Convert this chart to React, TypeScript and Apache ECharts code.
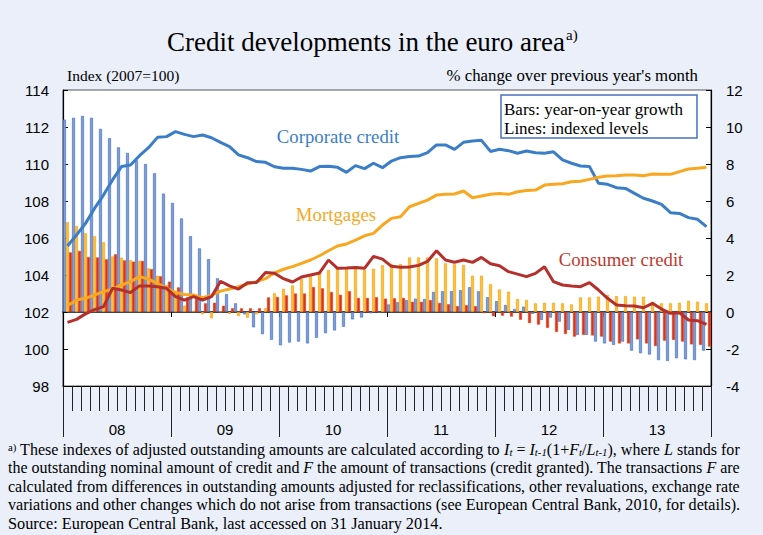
import React, { useEffect, useRef } from "react";
import * as echarts from "echarts";

const years = ["08", "09", "10", "11", "12", "13"];
const months = years.flatMap((y) =>
  Array.from({ length: 12 }, (_, m) => `${y}-${String(m + 1).padStart(2, "0")}`)
);

// Lines: indexed levels (2007 = 100), left axis
const corporateIndex = [
  105.57, 106.16, 106.79, 107.6, 108.32, 109.14, 109.86, 109.95, 110.45, 110.88, 111.44, 111.48,
  111.75, 111.6, 111.48, 111.57, 111.42, 111.17, 110.94, 110.49, 110.34, 110.13, 110.09, 109.85,
  109.77, 109.77, 109.71, 109.62, 109.86, 109.88, 109.82, 109.55, 109.91, 109.75, 110.04, 109.8,
  110.16, 110.34, 110.41, 110.43, 110.61, 111.03, 111.03, 110.79, 111.17, 111.24, 111.28, 110.68,
  110.8, 110.72, 110.58, 110.7, 110.61, 110.58, 110.66, 110.22, 110.04, 109.89, 109.86, 108.96,
  108.9, 108.72, 108.68, 108.41, 108.15, 108.0, 107.82, 107.37, 107.33, 107.1, 107.01, 106.61,
];
const mortgageIndex = [
  102.34, 102.65, 102.74, 102.92, 103.1, 103.24, 103.46, 103.64, 103.91, 103.78, 103.55, 103.28,
  103.06, 102.95, 102.92, 102.77, 102.9, 103.13, 103.24, 103.37, 103.51, 103.64, 103.8, 104.12,
  104.31, 104.45, 104.63, 104.81, 105.04, 105.31, 105.57, 105.68, 105.89, 106.12, 106.25, 106.7,
  107.06, 107.15, 107.69, 107.87, 108.05, 108.32, 108.36, 108.38, 108.54, 108.18, 108.27, 108.36,
  108.41, 108.36, 108.5, 108.57, 108.59, 108.86, 108.9, 108.93, 109.04, 109.07, 109.17, 109.28,
  109.35, 109.37, 109.41, 109.41, 109.37, 109.46, 109.44, 109.44, 109.59, 109.73, 109.77, 109.82,
];
const consumerIndex = [
  101.44, 101.6, 101.9, 102.13, 102.29, 103.28, 103.19, 103.05, 103.41, 103.41, 103.37, 103.28,
  102.83, 102.64, 102.83, 102.65, 102.83, 103.66, 103.41, 103.24, 103.58, 103.6, 104.14, 104.09,
  103.8, 103.62, 103.89, 104.0, 104.11, 104.81, 104.36, 104.38, 104.41, 104.36, 105.01, 104.86,
  104.47, 104.42, 104.43, 104.52, 104.73, 105.31, 104.81, 104.69, 104.81, 104.68, 104.95, 104.61,
  104.5, 104.18, 104.05, 103.91, 104.09, 104.45, 103.64, 103.46, 103.41, 103.37, 103.59, 103.19,
  102.74, 102.38, 102.34, 102.32, 102.23, 102.47, 102.16, 101.93, 101.96, 101.57, 101.53, 101.33,
];

// Bars: year-on-year growth (%), right axis
const corporateGrowth = [
  10.4, 10.5, 10.6, 10.5, 9.9, 9.4, 8.9, 8.6, 8.2, 8.0, 7.5, 6.4,
  5.9, 5.06, 4.1, 3.44, 2.86, 1.82, 0.97, 0.47, -0.13, -0.83, -1.2, -1.5,
  -1.8, -1.65, -1.6, -1.7, -1.4, -1.15, -1.0, -0.8, -0.4, -0.3, -0.07, -0.03,
  0.41, 0.53, 0.64, 0.72, 0.7, 1.09, 1.13, 1.13, 1.18, 1.34, 1.12, 0.8,
  0.59, 0.38, 0.16, 0.29, -0.1, -0.43, -0.3, -0.52, -0.97, -1.24, -1.24, -1.6,
  -1.7, -1.78, -1.6, -2.09, -2.23, -2.3, -2.6, -2.65, -2.5, -2.56, -2.6, -2.09,
];
const mortgageGrowth = [
  4.85, 4.65, 4.26, 4.1, 3.77, 3.0, 2.94, 2.8, 2.76, 2.36, 1.96, 1.46,
  1.06, 0.34, 0.07, -0.13, -0.34, 0.03, -0.1, -0.22, -0.31, -0.13, 0.2, 1.01,
  1.25, 1.44, 1.8, 1.93, 2.18, 2.27, 2.33, 2.38, 2.36, 2.28, 2.34, 2.53,
  2.6, 2.59, 2.95, 2.95, 2.95, 2.9, 2.63, 2.58, 2.54, 1.96, 1.96, 1.51,
  1.22, 1.1, 0.7, 0.65, 0.47, 0.5, 0.5, 0.47, 0.41, 0.79, 0.79, 0.83,
  0.92, 0.86, 0.86, 0.83, 0.83, 0.56, 0.47, 0.47, 0.5, 0.61, 0.56, 0.47,
];
const consumerGrowth = [
  3.22, 3.3, 2.97, 2.95, 2.85, 3.12, 2.79, 2.72, 2.76, 2.32, 1.93, 1.64,
  1.33, 0.79, 0.7, 0.47, 0.5, 0.34, 0.2, 0.2, 0.2, 0.2, 0.79, 0.81,
  0.9, 1.0, 1.0, 1.35, 1.28, 1.08, 0.93, 1.13, 0.76, 0.76, 0.8, 0.72,
  0.74, 0.76, 0.55, 0.55, 0.64, 0.49, 0.42, 0.32, 0.37, 0.32, -0.06, -0.23,
  -0.2, -0.25, -0.42, -0.6, -0.68, -0.86, -1.08, -1.19, -1.33, -1.24, -1.27, -1.33,
  -1.6, -1.7, -1.7, -1.48, -1.7, -1.84, -1.55, -1.51, -1.6, -1.75, -1.78, -1.87,
];

// Footnote lines as [style, text] fragments; n = normal, i = italic, sub/sup = small
const footnoteLines: [string, string][][] = [
  [
    ["sup", "a)"],
    ["n", " These indexes of adjusted outstanding amounts are calculated according to "],
    ["i", "I"], ["sub", "t"], ["n", " = "], ["i", "I"], ["sub", "t-1"], ["n", "(1+"],
    ["i", "F"], ["sub", "t"], ["n", "/"], ["i", "L"], ["sub", "t-1"], ["n", "), where "],
    ["i", "L"], ["n", " stands for"],
  ],
  [
    ["n", "the outstanding nominal amount of credit and "], ["i", "F"],
    ["n", " the amount of transactions (credit granted). The transactions "], ["i", "F"], ["n", " are"],
  ],
  [["n", "calculated from differences in outstanding amounts adjusted for reclassifications, other revaluations, exchange rate"]],
  [["n", "variations and other changes which do not arise from transactions (see European Central Bank, 2010, for details)."]],
  [["n", "Source: European Central Bank, last accessed on 31 January 2014."]],
];

const SERIF = "'Liberation Serif', 'Times New Roman', serif";
const SANS = "'Liberation Sans', Arial, sans-serif";
const BG = "#eaeff9";

const COL_CORP_LINE = "#3a7ec7";
const COL_MORT_LINE = "#f8a720";
const COL_CONS_LINE = "#b5302b";

const FN = 16.3;
const FN_SMALL = 11;
const richStyles: any = {
  n: { fontSize: FN, fontFamily: SERIF, fill: "#000" },
  i: { fontSize: FN, fontFamily: SERIF, fontStyle: "italic", fill: "#000" },
  sub: { fontSize: FN_SMALL, fontFamily: SERIF, fontStyle: "italic", fill: "#000", verticalAlign: "bottom", lineHeight: 13 },
  sup: { fontSize: FN_SMALL, fontFamily: SERIF, fill: "#000", verticalAlign: "top", lineHeight: 13 },
};

function txt(text: string, x: number, y: number, size: number, opts: any = {}) {
  return {
    type: "text",
    x,
    y,
    z: 100,
    scaleX: opts.scaleX ?? 1,
    silent: true,
    style: {
      text,
      fill: opts.fill || "#000",
      fontSize: size,
      fontFamily: opts.family || SERIF,
      fontStyle: opts.italic ? "italic" : "normal",
      textAlign: opts.align || "left",
      textVerticalAlign: "middle",
      rich: opts.rich,
    },
  };
}

function measureFrags(frags: [string, string][]) {
  const c = document.createElement("canvas").getContext("2d")!;
  let w = 0;
  for (const [s, t] of frags) {
    const size = s === "sub" || s === "sup" ? FN_SMALL : FN;
    const italic = s === "i" || s === "sub";
    c.font = `${italic ? "italic " : ""}${size}px ${SERIF}`;
    w += c.measureText(t).width;
  }
  return w;
}

export default function App() {
  const ref = useRef<HTMLDivElement>(null);
  useEffect(() => {
    const chart = echarts.init(ref.current!, null, { renderer: "svg" });

    const FOOT_X = 8;
    const FOOT_W = 732;
    const footYs = [449, 467.5, 486, 504.5, 523];
    const footGraphics = footnoteLines.map((frags, k) => {
      const w = measureFrags(frags);
      const justify = k < footnoteLines.length - 1;
      const scaleX = justify && w > 0 ? Math.min(1.03, FOOT_W / w) : 1;
      const richText = frags
        .map(([s, t]) => `{${s}|${t.replace(/[{}|]/g, "")}}`)
        .join("");
      return txt(richText, FOOT_X, footYs[k], FN, { rich: richStyles, scaleX });
    });

    chart.setOption({
      animation: false,
      backgroundColor: BG,
      grid: {
        left: 63,
        top: 90,
        width: 648,
        height: 296,
        show: true,
        backgroundColor: "#fff",
        borderColor: "#555",
        borderWidth: 1,
      },
      xAxis: [
        {
          type: "category",
          data: months,
          position: "bottom",
          boundaryGap: true,
          axisLine: { onZero: false, lineStyle: { color: "#000", width: 1.2 } },
          axisTick: { show: true, interval: 0, length: 25, lineStyle: { color: "#222", width: 1 } },
          axisLabel: { show: false },
          splitLine: { show: false },
        },
        {
          type: "category",
          data: years,
          position: "bottom",
          boundaryGap: true,
          axisLine: { onZero: false, show: false },
          axisTick: { show: true, interval: 0, length: 51, lineStyle: { color: "#222", width: 1 } },
          axisLabel: { show: true, margin: 36, fontFamily: SANS, fontSize: 15, color: "#000" },
          splitLine: { show: false },
        },
        {
          type: "category",
          data: months,
          position: "bottom",
          boundaryGap: true,
          axisLine: { onZero: true, onZeroAxisIndex: 1, lineStyle: { color: "#000", width: 1.5 } },
          axisTick: {
            show: true,
            interval: (i: number) => i % 12 === 0,
            length: 5,
            lineStyle: { color: "#000", width: 1 },
          },
          axisLabel: { show: false },
          splitLine: { show: false },
        },
      ],
      yAxis: [
        {
          type: "value",
          min: 98,
          max: 114,
          interval: 2,
          position: "left",
          axisLine: { show: true, lineStyle: { color: "#000", width: 1.2 } },
          axisTick: { show: true, inside: true, length: 5, lineStyle: { color: "#000" } },
          axisLabel: { margin: 14, fontFamily: SANS, fontSize: 15, color: "#000" },
          splitLine: { show: false },
        },
        {
          type: "value",
          min: -4,
          max: 12,
          interval: 2,
          position: "right",
          axisLine: { show: true, lineStyle: { color: "#000", width: 1.2 } },
          axisTick: { show: true, inside: true, length: 5, lineStyle: { color: "#000" } },
          axisLabel: { margin: 15, fontFamily: SANS, fontSize: 15, color: "#000" },
          splitLine: { show: false },
        },
      ],
      series: [
        {
          name: "Corporate credit growth",
          type: "bar",
          xAxisIndex: 0,
          yAxisIndex: 1,
          data: corporateGrowth,
          barWidth: 3,
          barGap: "0%",
          itemStyle: { color: "#7c9fdc", borderColor: "#4a73c3", borderWidth: 0.7 },
          z: 2,
        },
        {
          name: "Mortgages growth",
          type: "bar",
          xAxisIndex: 0,
          yAxisIndex: 1,
          data: mortgageGrowth,
          barWidth: 3,
          barGap: "0%",
          itemStyle: { color: "#fdc02e", borderColor: "#f7a21c", borderWidth: 0.7 },
          z: 2,
        },
        {
          name: "Consumer credit growth",
          type: "bar",
          xAxisIndex: 0,
          yAxisIndex: 1,
          data: consumerGrowth,
          barWidth: 3,
          barGap: "0%",
          itemStyle: { color: "#d8341d", borderColor: "#e04a22", borderWidth: 0.5 },
          z: 2,
        },
        {
          name: "Corporate credit",
          type: "line",
          xAxisIndex: 0,
          yAxisIndex: 0,
          data: corporateIndex,
          symbol: "none",
          lineStyle: { color: COL_CORP_LINE, width: 3 },
          z: 5,
        },
        {
          name: "Mortgages",
          type: "line",
          xAxisIndex: 0,
          yAxisIndex: 0,
          data: mortgageIndex,
          symbol: "none",
          lineStyle: { color: COL_MORT_LINE, width: 3 },
          z: 5,
        },
        {
          name: "Consumer credit",
          type: "line",
          xAxisIndex: 0,
          yAxisIndex: 0,
          data: consumerIndex,
          symbol: "none",
          lineStyle: { color: COL_CONS_LINE, width: 3 },
          z: 6,
        },
      ],
      graphic: [
        txt("Credit developments in the euro area", 366, 42, 27, { align: "center" }),
        txt("a)", 566, 35, 15),
        txt("Index (2007=100)", 67, 75, 15.5),
        txt("% change over previous year's month", 698, 75, 16.8, { align: "right" }),
        {
          type: "rect",
          z: 99,
          silent: true,
          shape: { x: 501, y: 95, width: 196, height: 43 },
          style: { fill: "#fff", stroke: "#4a6fc0", lineWidth: 1.5 },
        },
        txt("Bars: year-on-year growth", 504, 109, 17),
        txt("Lines: indexed levels", 504, 128, 17),
        txt("Corporate credit", 338, 136, 18.8, { align: "center", fill: COL_CORP_LINE }),
        txt("Mortgages", 336, 214, 18.8, { align: "center", fill: COL_MORT_LINE }),
        txt("Consumer credit", 621, 259, 18.8, { align: "center", fill: "#c0392f" }),
        ...footGraphics,
      ],
    });
    return () => chart.dispose();
  }, []);
  return (
    <div
      ref={ref}
      style={{ position: "fixed", left: 0, top: 0, width: 763, height: 535, background: BG }}
    />
  );
}
